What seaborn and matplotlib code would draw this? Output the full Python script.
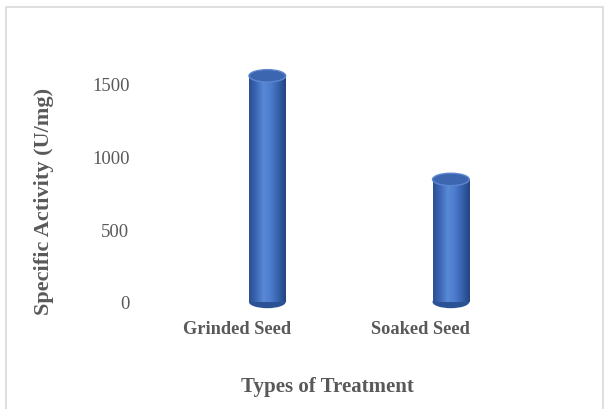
import numpy as np
import pandas as pd
import seaborn as sns
import matplotlib
matplotlib.use("Agg")
import matplotlib.pyplot as plt
from matplotlib.patches import Ellipse, Rectangle
from matplotlib.colors import LinearSegmentedColormap
from matplotlib.transforms import ScaledTranslation

# Specific activity per treatment
treatments = ["Grinded Seed", "Soaked Seed"]
activity = [1550, 840]
y_ticks = [0, 500, 1000, 1500]

sns.set_theme(style="white")
plt.rcParams["font.family"] = ["Liberation Serif", "DejaVu Serif"]

text_gray = "#595959"
bar_blue = "#4472C4"

fig = plt.figure(figsize=(6.08, 4.10), dpi=100)
ax = fig.add_axes([0.238, 0.261, 0.73, 0.605])

df = pd.DataFrame({"Treatment": treatments, "Activity": activity})
sns.barplot(data=df, x="Treatment", y="Activity", width=0.2, color=bar_blue,
            ax=ax, saturation=1)

ax.set_xlim(-0.668, 1.75)
ax.set_ylim(0, 1700)
ax.set_yticks(y_ticks)
ax.set_yticklabels([str(t) for t in y_ticks], fontsize=13.5, color=text_gray)
ax.tick_params(axis="y", length=0, pad=11)
ax.tick_params(axis="x", length=0, pad=13)
for lbl in ax.get_xticklabels():
    lbl.set_fontsize(13.2)
    lbl.set_fontweight("bold")
    lbl.set_color(text_gray)
    lbl.set_transform(lbl.get_transform() + ScaledTranslation(-0.30, 0, fig.dpi_scale_trans))

ax.set_xlabel("Types of Treatment", fontsize=15, fontweight="bold",
              color=text_gray)
ax.set_ylabel("Specific Activity (U/mg)", fontsize=16, fontweight="bold",
              color=text_gray)
ax.xaxis.set_label_coords(0.412, -0.30)
ax.yaxis.set_label_coords(-0.205, 0.41)
for s in ax.spines.values():
    s.set_visible(False)
ax.grid(False)

# Cylinder shading: horizontal gradient over each bar, plus elliptical caps
cyl = LinearSegmentedColormap.from_list(
    "cyl", ["#2A4F93", "#3D68B5", "#5A8AD6", "#4B7BCB", "#3560AA", "#23447F"])
grad = np.linspace(0, 1, 256).reshape(1, -1)
cap_h = 85  # cap height in data units
for p in ax.patches:
    x0, w, h = p.get_x(), p.get_width(), p.get_height()
    p.set_alpha(0)
    bottom = Ellipse((x0 + w / 2, 0), w, cap_h, facecolor="#2C5296",
                     edgecolor="none", clip_on=False, zorder=2)
    ax.add_patch(bottom)
    im = ax.imshow(grad, cmap=cyl, aspect="auto", extent=(x0, x0 + w, 0, h),
                   zorder=3)
    rect = Rectangle((x0, 0), w, h, transform=ax.transData)
    im.set_clip_path(rect)
    top = Ellipse((x0 + w / 2, h), w, cap_h, facecolor="#3D66B0",
                  edgecolor="#5C86CF", linewidth=1.0, zorder=4)
    ax.add_patch(top)

ax.set_xlim(-0.668, 1.75)
ax.set_ylim(0, 1700)

# Light chart-area frame
fig.add_artist(Rectangle((6 / 608, -0.01), 597 / 608, (410 - 8) / 410 + 0.01,
                         transform=fig.transFigure, fill=False,
                         edgecolor="#D9D9D9", linewidth=1.2))

fig.savefig("out.png", dpi=100)
